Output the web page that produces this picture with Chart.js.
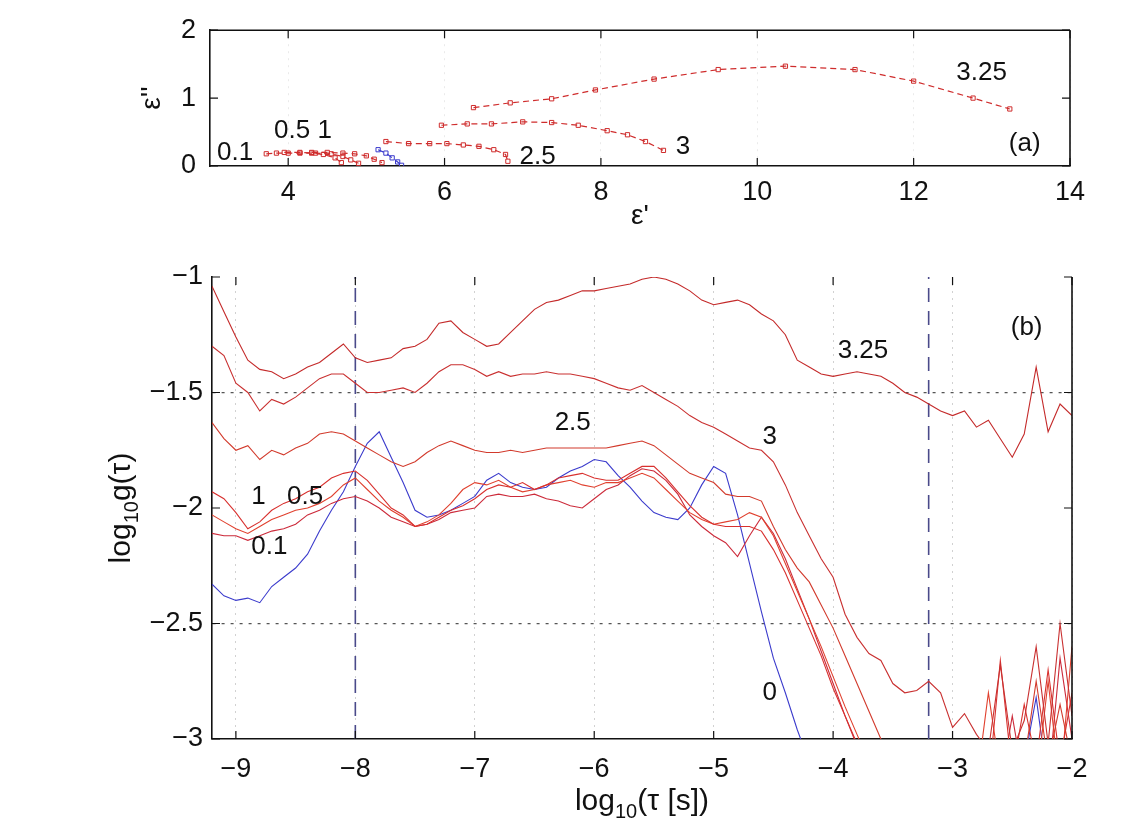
<!DOCTYPE html>
<html lang="en">
<head>
<meta charset="UTF-8">
<title>Dielectric relaxation spectra</title>
<script src="https://cdn.jsdelivr.net/npm/chart.js"></script>
<style>
  body { margin: 0; background: #fff; }
  canvas { position: absolute; left: 0; }
  #top { top: 0; }
  #bot { top: 240px; }
</style>
</head>
<body>
<canvas id="top" width="1140" height="240"></canvas>
<canvas id="bot" width="1140" height="593"></canvas>
<script>
// ---- panel (a): Cole-Cole points (eps', eps'')
const ticksAx = [4, 6, 8, 10, 12, 14];
const ticksAy = [0, 1, 2];
const eR_325 = [6.37, 6.84, 7.37, 7.93, 8.68, 9.50, 10.36, 11.25, 12.0, 12.76, 13.23];
const eI_325 = [0.86, 0.93, 0.99, 1.12, 1.28, 1.42, 1.47, 1.42, 1.25, 1.00, 0.84];
const eR_3 = [5.96, 6.29, 6.60, 7.00, 7.37, 7.71, 8.08, 8.34, 8.57, 8.80];
const eI_3 = [0.60, 0.62, 0.62, 0.65, 0.64, 0.60, 0.52, 0.46, 0.36, 0.23];
const eR_25 = [5.25, 5.54, 5.81, 6.03, 6.24, 6.44, 6.63, 6.78, 6.81];
const eI_25 = [0.36, 0.33, 0.33, 0.33, 0.31, 0.29, 0.24, 0.17, 0.07];
const eR_1 = [4.30, 4.50, 4.70, 4.85, 5.00, 5.10, 5.20];
const eI_1 = [0.20, 0.20, 0.19, 0.18, 0.15, 0.10, 0.05];
const eR_05 = [3.95, 4.15, 4.35, 4.55, 4.70, 4.80, 4.90];
const eI_05 = [0.20, 0.20, 0.19, 0.18, 0.14, 0.09, 0.04];
const eR_01 = [3.72, 3.85, 4.00, 4.15, 4.30, 4.45, 4.60, 4.68];
const eI_01 = [0.18, 0.19, 0.19, 0.19, 0.19, 0.17, 0.12, 0.05];
const eR_0 = [5.15, 5.25, 5.33, 5.40, 5.45];
const eI_0 = [0.24, 0.19, 0.12, 0.06, 0.01];

// ---- panel (b): log10 g(tau) vs log10 tau
const ticksBx = [-9, -8, -7, -6, -5, -4, -3, -2];
const ticksBy = [-3, -2.5, -2, -1.5, -1];
const markTau = [-8, -3.2];
const tau = [-9.2,-9.1,-9.0,-8.9,-8.8,-8.7,-8.6,-8.5,-8.4,-8.3,-8.2,-8.1,-8.0,-7.9,-7.8,-7.7,-7.6,-7.5,-7.4,-7.3,
  -7.2,-7.1,-7.0,-6.9,-6.8,-6.7,-6.6,-6.5,-6.4,-6.3,-6.2,-6.1,-6.0,-5.9,-5.8,-5.7,-5.6,-5.5,-5.4,-5.3,
  -5.2,-5.1,-5.0,-4.9,-4.8,-4.7,-4.6,-4.5,-4.4,-4.3,-4.2,-4.1,-4.0,-3.9,-3.8,-3.7,-3.6,-3.5,-3.4,-3.3,
  -3.2,-3.1,-3.0,-2.9,-2.8,-2.7,-2.6,-2.5,-2.4,-2.3,-2.2,-2.1,-2.0];
const g325 = [-1.04,-1.15,-1.26,-1.36,-1.40,-1.41,-1.44,-1.42,-1.39,-1.37,
  -1.33,-1.29,-1.35,-1.37,-1.36,-1.35,-1.31,-1.30,-1.27,-1.20,
  -1.19,-1.24,-1.27,-1.30,-1.29,-1.24,-1.19,-1.14,-1.11,-1.10,
  -1.08,-1.06,-1.06,-1.05,-1.04,-1.03,-1.01,-1.00,-1.01,-1.03,
  -1.06,-1.10,-1.12,-1.11,-1.10,-1.12,-1.16,-1.19,-1.25,-1.36,
  -1.39,-1.42,-1.43,-1.42,-1.41,-1.42,-1.43,-1.46,-1.50,-1.52,
  -1.55,-1.58,-1.60,-1.58,-1.65,-1.62,-1.70,-1.78,-1.68,-1.39,
  -1.67,-1.55,-1.60];
const g3 = [-1.30,-1.34,-1.46,-1.50,-1.58,-1.53,-1.55,-1.52,-1.48,-1.44,
  -1.42,-1.42,-1.46,-1.50,-1.50,-1.49,-1.48,-1.50,-1.46,-1.41,
  -1.38,-1.38,-1.40,-1.43,-1.41,-1.43,-1.42,-1.42,-1.41,-1.42,
  -1.42,-1.43,-1.44,-1.46,-1.48,-1.49,-1.47,-1.50,-1.53,-1.56,
  -1.60,-1.63,-1.65,-1.68,-1.71,-1.74,-1.75,-1.80,-1.90,-2.02,
  -2.12,-2.22,-2.30,-2.46,-2.56,-2.63,-2.66,-2.76,-2.80,-2.79,
  -2.75,-2.80,-2.95,-2.89,-2.98,-3.05,-2.68,-3.05,-2.92,-2.60,
  -3.02,-2.50,-2.90];
const g25 = [-1.63,-1.70,-1.75,-1.73,-1.79,-1.75,-1.77,-1.74,-1.72,-1.68,
  -1.67,-1.68,-1.71,-1.74,-1.77,-1.80,-1.82,-1.80,-1.76,-1.73,
  -1.71,-1.73,-1.75,-1.76,-1.76,-1.75,-1.76,-1.75,-1.74,-1.74,
  -1.74,-1.74,-1.74,-1.74,-1.73,-1.72,-1.71,-1.73,-1.77,-1.81,
  -1.85,-1.87,-1.89,-1.94,-1.95,-1.95,-1.97,-2.08,-2.18,-2.26,
  -2.32,-2.42,-2.52,-2.64,-2.76,-2.88,-3.00,-3.12,-3.20,-3.15,
  -3.20,-3.20,-3.15,-3.20,-3.20,-3.15,-3.20,-3.20,-3.10,-2.75,
  -3.10,-2.85,-3.10];
const g1 = [-1.93,-1.96,-2.02,-2.09,-2.06,-2.01,-1.98,-1.96,-1.93,-1.91,
  -1.87,-1.85,-1.84,-1.88,-1.94,-2.00,-2.03,-2.08,-2.07,-2.04,
  -2.01,-1.99,-1.96,-1.92,-1.90,-1.91,-1.89,-1.92,-1.90,-1.87,
  -1.86,-1.85,-1.87,-1.88,-1.88,-1.85,-1.82,-1.82,-1.87,-1.93,
  -1.99,-2.04,-2.07,-2.08,-2.08,-2.08,-2.10,-2.18,-2.28,-2.40,
  -2.52,-2.64,-2.78,-2.90,-3.02,-3.12,-3.20,-3.15,-3.20,-3.20,
  -3.15,-3.20,-3.20,-3.10,-3.20,-3.20,-2.66,-3.15,-2.85,-3.10,
  -2.70,-3.10,-2.80];
const g05 = [-2.03,-2.06,-2.09,-2.11,-2.08,-2.05,-2.03,-2.01,-2.00,-1.98,
  -1.95,-1.90,-1.87,-1.92,-1.97,-2.01,-2.04,-2.08,-2.06,-2.03,
  -1.98,-1.92,-1.89,-1.90,-1.88,-1.91,-1.93,-1.92,-1.90,-1.89,
  -1.88,-1.90,-1.91,-1.89,-1.89,-1.87,-1.85,-1.87,-1.92,-1.97,
  -2.02,-2.05,-2.07,-2.06,-2.05,-2.02,-2.04,-2.12,-2.24,-2.36,
  -2.48,-2.60,-2.73,-2.86,-2.98,-3.10,-3.20,-3.15,-3.20,-3.20,
  -3.20,-3.15,-3.20,-3.20,-3.20,-2.80,-3.15,-3.20,-3.10,-3.20,
  -2.75,-3.20,-2.60];
const g01 = [-2.11,-2.12,-2.12,-2.14,-2.12,-2.10,-2.09,-2.07,-2.03,-2.01,
  -1.98,-1.96,-1.95,-1.97,-2.00,-2.04,-2.06,-2.08,-2.07,-2.05,
  -2.02,-2.01,-2.00,-1.95,-1.94,-1.95,-1.95,-1.94,-1.96,-1.97,
  -1.99,-2.00,-1.96,-1.92,-1.90,-1.86,-1.83,-1.84,-1.88,-1.94,
  -2.03,-2.08,-2.12,-2.15,-2.21,-2.12,-2.04,-2.11,-2.22,-2.35,
  -2.48,-2.62,-2.76,-2.90,-3.03,-3.15,-3.20,-3.15,-3.20,-3.20,
  -3.20,-3.20,-3.15,-3.20,-3.20,-3.20,-3.20,-2.90,-3.20,-3.15,
  -3.20,-2.65,-3.00];
const g0 = [-2.33,-2.38,-2.40,-2.39,-2.41,-2.34,-2.30,-2.26,-2.20,-2.10,
  -2.01,-1.93,-1.82,-1.72,-1.67,-1.78,-1.89,-2.01,-2.04,-2.03,
  -2.01,-1.98,-1.95,-1.88,-1.85,-1.89,-1.91,-1.92,-1.91,-1.87,
  -1.84,-1.82,-1.79,-1.80,-1.86,-1.91,-1.97,-2.02,-2.04,-2.05,
  -2.00,-1.90,-1.82,-1.85,-2.03,-2.24,-2.45,-2.65,-2.80,-2.96,
  -3.10,-3.20,-3.20,-3.20,-3.20,-3.20,-3.20,-3.20,-3.20,-3.20,
  -3.20,-3.20,-3.20,-3.20,-3.20,-3.20,-3.20,-3.20,-3.10,-2.82,
  -3.20,-3.20,-3.10];

const FONT = "'Liberation Sans', Arial, sans-serif";
const RED = '#cf2c2c';
const BLUE = '#3b3bcc';
const minus = v => String(v).replace('-', '\u2212');
const pts = (xs, ys) => xs.map((x, i) => ({ x: x, y: ys[i] }));

// frame, inner ticks, notes and axis titles
const framePlugin = {
  id: 'frame',
  afterDatasetsDraw(chart, args, o) {
    const { ctx, chartArea: a, scales } = chart;
    const sx = scales.x, sy = scales.y;
    ctx.save();
    ctx.strokeStyle = '#111';
    ctx.lineWidth = 1.6;
    ctx.beginPath();
    ctx.moveTo(a.right, a.top); ctx.lineTo(a.right, a.bottom);
    if (o.topLine) { ctx.moveTo(a.left, a.top); ctx.lineTo(a.right, a.top); }
    ctx.stroke();
    ctx.lineWidth = 1.2;
    ctx.beginPath();
    sx.ticks.forEach(t => {
      const p = sx.getPixelForValue(t.value);
      ctx.moveTo(p, a.bottom); ctx.lineTo(p, a.bottom - 8);
      ctx.moveTo(p, a.top); ctx.lineTo(p, a.top + 8);
    });
    sy.ticks.forEach(t => {
      const p = sy.getPixelForValue(t.value);
      ctx.moveTo(a.left, p); ctx.lineTo(a.left + 8, p);
      ctx.moveTo(a.right, p); ctx.lineTo(a.right - 8, p);
    });
    ctx.stroke();
    ctx.fillStyle = '#111';
    ctx.textAlign = 'center';
    ctx.textBaseline = 'middle';
    ctx.font = o.noteSize + 'px ' + FONT;
    o.notes.forEach(n => {
      ctx.fillText(n.t, sx.getPixelForValue(n.x), sy.getPixelForValue(n.y));
    });
    drawParts(ctx, o.xTitle, (a.left + a.right) / 2, o.xTitleY, false);
    drawParts(ctx, o.yTitle, o.yTitleX, (a.top + a.bottom) / 2, true);
    ctx.restore();
  }
};

function drawParts(ctx, parts, cx, cy, rotate) {
  ctx.save();
  ctx.translate(cx, cy);
  if (rotate) ctx.rotate(-Math.PI / 2);
  ctx.textAlign = 'left';
  ctx.textBaseline = 'alphabetic';
  let w = 0;
  parts.forEach(p => { ctx.font = p.f + 'px ' + FONT; w += ctx.measureText(p.t).width; });
  let x = -w / 2;
  parts.forEach(p => {
    ctx.font = p.f + 'px ' + FONT;
    ctx.fillText(p.t, x, 10 + (p.dy || 0));
    x += ctx.measureText(p.t).width;
  });
  ctx.restore();
}

const tickFont = { family: FONT, size: 27 };
function axis(min, max, list, fit, extra) {
  return Object.assign({
    type: 'linear', min: min, max: max,
    afterBuildTicks: s => { s.ticks = list.map(v => ({ value: v })); },
    afterFit: fit,
    ticks: { font: tickFont, color: '#111', callback: minus, padding: 10, maxRotation: 0, autoSkip: false },
    border: { display: true, color: '#111', width: 1.6 }
  }, extra);
}

// ---- panel (a)
const aSeries = [
  [eR_325, eI_325], [eR_3, eI_3], [eR_25, eI_25], [eR_1, eI_1], [eR_05, eI_05], [eR_01, eI_01]
].map(s => ({
  data: pts(s[0], s[1]),
  borderColor: RED, borderWidth: 1.2, borderDash: [6, 4],
  pointStyle: 'rect', pointRadius: 3, pointBorderColor: RED, pointBorderWidth: 1,
  pointBackgroundColor: 'rgba(0,0,0,0)', tension: 0
}));
aSeries.push({
  data: pts(eR_0, eI_0), borderColor: BLUE, borderWidth: 1.2, borderDash: [6, 4],
  pointStyle: 'rect', pointRadius: 3, pointBorderColor: BLUE, pointBorderWidth: 1,
  pointBackgroundColor: 'rgba(0,0,0,0)'
});

new Chart(document.getElementById('top'), {
  type: 'line',
  data: { datasets: aSeries },
  options: {
    responsive: false, animation: false, devicePixelRatio: 1,
    layout: { padding: { top: 28, right: 70, left: 0, bottom: 0 } },
    plugins: {
      legend: { display: false }, tooltip: { enabled: false },
      frame: {
        topLine: true, noteSize: 26,
        notes: [
          { t: '0.1', x: 3.32, y: 0.19 }, { t: '0.5 1', x: 4.19, y: 0.52 },
          { t: '2.5', x: 7.19, y: 0.13 }, { t: '3', x: 9.05, y: 0.28 },
          { t: '3.25', x: 12.87, y: 1.37 }, { t: '(a)', x: 13.42, y: 0.33 }
        ],
        xTitle: [{ t: "\u03b5'", f: 28 }], xTitleY: 214,
        yTitle: [{ t: "\u03b5''", f: 28 }], yTitleX: 150
      }
    },
    scales: {
      x: axis(3, 14, ticksAx, s => { s.height = 74; }, {
        grid: { drawTicks: false, color: 'rgba(150,150,150,0.2)', lineWidth: 1 },
        border: { display: true, color: '#111', width: 1.6, dash: [2, 5] }
      }),
      y: axis(0, 2, ticksAy, s => { s.width = 210; }, {
        grid: { drawTicks: false, display: false },
        ticks: { font: tickFont, color: '#111', callback: minus, padding: 14 }
      })
    }
  },
  plugins: [framePlugin]
});

// ---- panel (b)
const bCurves = [
  { y: g325, c: '#c42a2a' }, { y: g3, c: '#c93030' }, { y: g25, c: '#d23a2c' },
  { y: g1, c: '#d8302e' }, { y: g05, c: '#e0402e' }, { y: g01, c: '#cc2a3a' },
  { y: g0, c: BLUE }
];
const bSets = bCurves.map((s, i) => ({
  data: pts(tau, s.y), borderColor: s.c, borderWidth: 1.1,
  pointRadius: 0, tension: 0, order: i
}));
markTau.forEach(t => {
  bSets.push({
    data: pts([t, t], [ticksBy[0], ticksBy[ticksBy.length - 1]]),
    borderColor: '#4a4a8a', borderWidth: 1.6, borderDash: [14, 9],
    pointRadius: 0, order: 20
  });
});

new Chart(document.getElementById('bot'), {
  type: 'line',
  data: { datasets: bSets },
  options: {
    responsive: false, animation: false, devicePixelRatio: 1,
    layout: { padding: { top: 37, right: 68, left: 0, bottom: 0 } },
    plugins: {
      legend: { display: false }, tooltip: { enabled: false },
      frame: {
        topLine: false, noteSize: 26,
        notes: [
          { t: '3.25', x: -3.75, y: -1.32 }, { t: '(b)', x: -2.38, y: -1.22 },
          { t: '3', x: -4.53, y: -1.69 }, { t: '2.5', x: -6.18, y: -1.63 },
          { t: '1', x: -8.81, y: -1.95 }, { t: '0.5', x: -8.42, y: -1.95 },
          { t: '0.1', x: -8.72, y: -2.17 }, { t: '0', x: -4.53, y: -2.80 }
        ],
        xTitle: [{ t: 'log', f: 30 }, { t: '10', f: 20, dy: 8 }, { t: '(\u03c4 [s])', f: 30 }],
        xTitleY: 560,
        yTitle: [{ t: 'log', f: 30 }, { t: '10', f: 20, dy: 8 }, { t: 'g(\u03c4)', f: 30 }],
        yTitleX: 120
      }
    },
    scales: {
      x: axis(-9.2, -2, ticksBx, s => { s.height = 94; }, {
        grid: { drawTicks: false, color: 'rgba(140,140,140,0.4)', lineWidth: 1 },
        border: { display: true, color: '#111', width: 1.6, dash: [2, 5] },
        ticks: { font: tickFont, color: '#111', callback: minus, padding: 14, maxRotation: 0, autoSkip: false }
      }),
      y: axis(-3, -1, ticksBy, s => { s.width = 212; }, {
        grid: {
          drawTicks: false, lineWidth: 1.2,
          color: c => (c.tick && (c.tick.value === -1.5 || c.tick.value === -2.5)) ? '#555' : 'rgba(0,0,0,0)'
        },
        border: { display: true, color: '#111', width: 1.6, dash: [3, 6] },
        ticks: { font: tickFont, color: '#111', callback: minus, padding: 9 }
      })
    }
  },
  plugins: [framePlugin]
});
</script>
</body>
</html>
